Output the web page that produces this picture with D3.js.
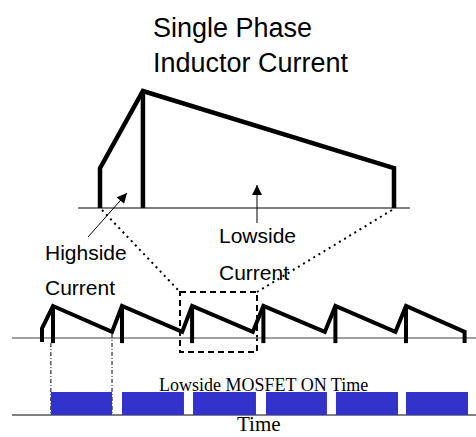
<!DOCTYPE html>
<html><head><meta charset="utf-8">
<script src="https://cdn.jsdelivr.net/npm/d3@7"></script>
<style>body{margin:0;background:#fff}svg{display:block}</style>
</head><body>
<script>
// ---- data ----
const titleLines = ["Single Phase", "Inductor Current"];
// bottom waveform (time in switching periods, current normalized to peak)
const peakTimes   = [0, 0.977, 1.97, 2.98, 4.0, 5.0];
const valleyTimes = [0.836, 1.83, 2.83, 3.85, 4.85, 5.83];
const peakCurrent = 1.0;
const valleyCurrent = 0.19;
const startTime = -0.156, startCurrent = 0.3, startLow = -0.125;
const dropLow = -0.16;
// lowside MOSFET on intervals [start, end]
const mosfetOn = [[-0.03, 0.836], [0.977, 1.855], [1.983, 2.875], [3.017, 3.88], [4.008, 4.887], [5.0, 5.878]];
// zoomed single-phase waveform (normalized time within one period)
const zoomValleyStart = 0, zoomPeak = 0.146, zoomValleyEnd = 1;
const zoomValleyCurrent = 0.34, zoomPeakCurrent = 1.0;
const labels = ["Highside", "Current", "Lowside", "Current", "Lowside MOSFET ON Time", "Time"];

// ---- scales ----
const W = 476, H = 437;
const svg = d3.select("body").append("svg").attr("width", W).attr("height", H);

const x = d3.scaleLinear().domain([0, 5]).range([53, 406]);
const y = d3.scaleLinear().domain([0, 1]).range([338, 306]);
const xz = d3.scaleLinear().domain([0, 1]).range([100, 394]);
const yz = d3.scaleLinear().domain([0, 1]).range([208, 91]);
const barY0 = 392, barY1 = 415;

// ---- title ----
svg.selectAll("text.title").data(titleLines).join("text")
  .attr("class", "title")
  .attr("x", 153).attr("y", (d, i) => 37 + i * 35)
  .attr("font-family", "'Liberation Sans', Arial, sans-serif")
  .attr("font-size", 27).attr("fill", "#000").text(d => d);

// ---- defs: arrowhead ----
svg.append("defs").append("marker")
  .attr("id", "ah").attr("viewBox", "0 0 10 10").attr("refX", 10).attr("refY", 5)
  .attr("markerUnits", "userSpaceOnUse").attr("markerWidth", 11).attr("markerHeight", 10)
  .attr("orient", "auto")
  .append("path").attr("d", "M0,0 L10,5 L0,10 Z").attr("fill", "#000");

// ---- zoomed waveform ----
svg.append("line").attr("x1", 78).attr("x2", 410).attr("y1", yz(0)).attr("y2", yz(0))
  .attr("stroke", "#000").attr("stroke-width", 1);

const line = d3.line();
const zoomPts = [
  [xz(zoomValleyStart), yz(0)], [xz(zoomValleyStart), yz(zoomValleyCurrent)],
  [xz(zoomPeak), yz(zoomPeakCurrent)], [xz(zoomValleyEnd), yz(zoomValleyCurrent)],
  [xz(zoomValleyEnd), yz(0)]
];
svg.append("path").attr("d", line(zoomPts)).attr("fill", "none")
  .attr("stroke", "#000").attr("stroke-width", 4.5).attr("stroke-linejoin", "miter");
svg.append("line").attr("x1", xz(zoomPeak)).attr("x2", xz(zoomPeak))
  .attr("y1", yz(zoomPeakCurrent)).attr("y2", yz(0))
  .attr("stroke", "#000").attr("stroke-width", 4.5);

// arrows
svg.append("line").attr("x1", 88).attr("y1", 237).attr("x2", 127).attr("y2", 193)
  .attr("stroke", "#000").attr("stroke-width", 1).attr("marker-end", "url(#ah)");
svg.append("line").attr("x1", 257).attr("y1", 223).attr("x2", 257).attr("y2", 185)
  .attr("stroke", "#000").attr("stroke-width", 1).attr("marker-end", "url(#ah)");

// ---- dotted projection lines + dashed box ----
const boxL = 180, boxR = 257, boxT = 292, boxB = 352;
svg.append("line").attr("x1", xz(zoomValleyStart) + 2).attr("y1", yz(0) + 2).attr("x2", boxL).attr("y2", boxT)
  .attr("stroke", "#000").attr("stroke-width", 2).attr("stroke-dasharray", "2,4");
svg.append("line").attr("x1", xz(zoomValleyEnd) - 2).attr("y1", yz(0) + 2).attr("x2", boxR).attr("y2", boxT)
  .attr("stroke", "#000").attr("stroke-width", 2).attr("stroke-dasharray", "2,4");
svg.append("rect").attr("x", boxL).attr("y", boxT).attr("width", boxR - boxL).attr("height", boxB - boxT)
  .attr("fill", "none").attr("stroke", "#000").attr("stroke-width", 2).attr("stroke-dasharray", "6,4");

// ---- labels ----
const lab = [[45, 260], [45, 295], [219, 243], [219, 280]];
svg.selectAll("text.lab").data(labels.slice(0, 4)).join("text")
  .attr("class", "lab")
  .attr("x", (d, i) => lab[i][0]).attr("y", (d, i) => lab[i][1])
  .attr("font-family", "'Liberation Sans', Arial, sans-serif")
  .attr("font-size", 21).attr("fill", "#000").text(d => d);

// ---- bottom waveform ----
svg.append("line").attr("x1", 12).attr("x2", W).attr("y1", y(0)).attr("y2", y(0))
  .attr("stroke", "#808080").attr("stroke-width", 1.5);
svg.append("line").attr("x1", 12).attr("x2", W).attr("y1", barY1).attr("y2", barY1)
  .attr("stroke", "#808080").attr("stroke-width", 2);

const wavePts = [[startTime, startLow], [startTime, startCurrent]];
peakTimes.forEach((p, i) => {
  wavePts.push([p, peakCurrent]);
  wavePts.push([valleyTimes[i], valleyCurrent]);
});
wavePts.push([valleyTimes[valleyTimes.length - 1], dropLow]);
svg.append("path").attr("d", d3.line().x(d => x(d[0])).y(d => y(d[1]))(wavePts))
  .attr("fill", "none").attr("stroke", "#000").attr("stroke-width", 4).attr("stroke-linejoin", "miter");
svg.selectAll("line.pk").data(peakTimes).join("line").attr("class", "pk")
  .attr("x1", d => x(d)).attr("x2", d => x(d)).attr("y1", y(peakCurrent)).attr("y2", y(dropLow))
  .attr("stroke", "#000").attr("stroke-width", 4);

// dash-dot guides
svg.append("line").attr("x1", x(mosfetOn[0][0])).attr("x2", x(mosfetOn[0][0]))
  .attr("y1", y(dropLow)).attr("y2", barY1)
  .attr("stroke", "#000").attr("stroke-width", 1).attr("stroke-dasharray", "4,2,1,2");
svg.append("line").attr("x1", x(mosfetOn[0][1])).attr("x2", x(mosfetOn[0][1]))
  .attr("y1", y(valleyCurrent) + 2).attr("y2", barY1)
  .attr("stroke", "#000").attr("stroke-width", 1).attr("stroke-dasharray", "4,2,1,2");

// bars
svg.selectAll("rect.bar").data(mosfetOn).join("rect").attr("class", "bar")
  .attr("x", d => x(d[0])).attr("width", d => x(d[1]) - x(d[0]))
  .attr("y", barY0).attr("height", barY1 - barY0)
  .attr("fill", "#3333cc");

svg.append("text").attr("x", 159).attr("y", 391)
  .attr("font-family", "'Liberation Serif', 'Times New Roman', serif")
  .attr("font-size", 18).attr("fill", "#000").text(labels[4]);
svg.append("text").attr("x", 237).attr("y", 431)
  .attr("font-family", "'Liberation Serif', 'Times New Roman', serif")
  .attr("font-size", 21).attr("fill", "#000").text(labels[5]);
</script>
</body></html>
